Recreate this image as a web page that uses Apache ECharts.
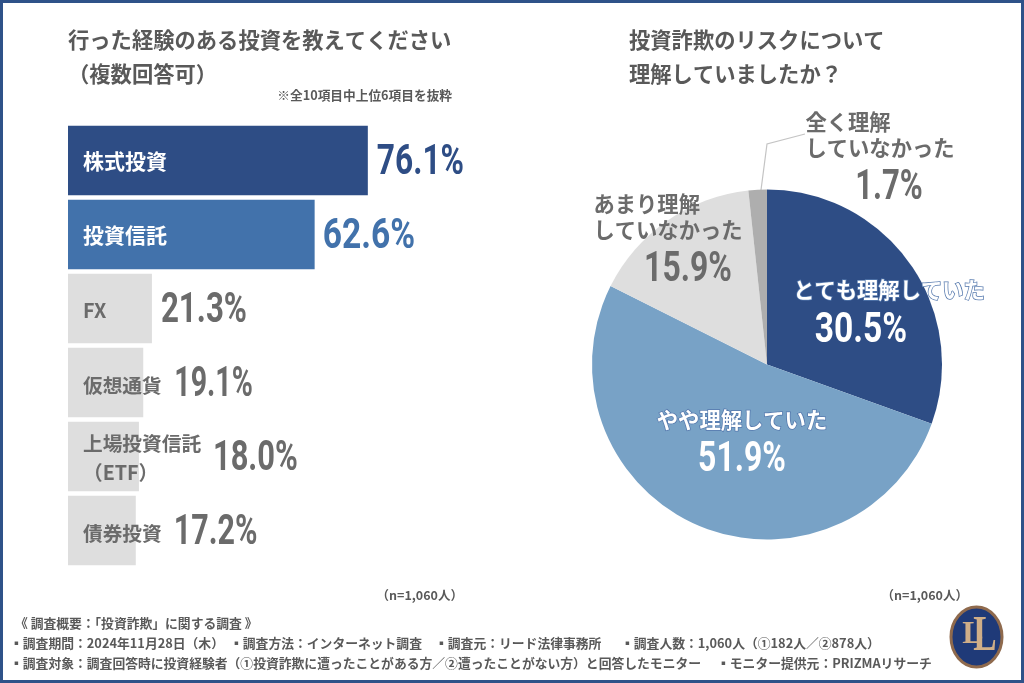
<!DOCTYPE html>
<html><head><meta charset="utf-8">
<style>html,body{margin:0;padding:0;background:#fff}#c{width:1024px;height:683px}</style>
<script src="https://cdn.jsdelivr.net/npm/echarts@6/dist/echarts.min.js"></script>
</head><body><div id="c"></div>
<script>
const barCategories = ['株式投資','投資信託','FX','仮想通貨','上場投資信託\n（ETF）','債券投資'];
const barValues = [76.1,62.6,21.3,19.1,18.0,17.2];
const pieNames = ['とても理解していた','やや理解していた','あまり理解\nしていなかった','全く理解\nしていなかった'];
const pieValues = [30.5,51.9,15.9,1.7];

const CJK = '"Noto Sans CJK JP"';
const NAVY='#2e4d85', BLUE='#4272ab', LIGHT='#78a2c6', GREY='#dedede', MID='#aeaeae', TXT='#6b6b6b', HEAD='#595959';
const PCT_FONT='700 42px Roboto';

const barFill=[NAVY,BLUE,GREY,GREY,GREY,GREY];
const barText=[NAVY,BLUE,TXT,TXT,TXT,TXT];
const catStyle=['a','a','b','c','d','c'];
const labelGap=[9,8,9,31,74,38];
const barPctScale=[.755,.80,.745,.68,.735,.725];
const piePctScale=[.80,.76,.76,.74];
const pieFill=[NAVY,LIGHT,GREY,MID];
const pieNameAt=[[889,290],[742,420],[668,217],[880,135]];
const piePctAt=[[861,331],[742,460],[688,270],[889,188]];
const piePctFill=['#fff','#fff',TXT,TXT];

const note=(text,x,y,extra)=>({type:'text',silent:true,x,y,style:Object.assign({text,font:`700 12.8px ${CJK}`,fill:HEAD,verticalAlign:'middle'},extra||{})});
const pct=v=>v.toFixed(1)+'%';
const catRich=(color,fontSize,top)=>({color,fontSize,fontFamily:CJK,fontWeight:700,lineHeight:29,padding:[top,0,0,0]});

const chart=echarts.init(document.getElementById('c'),null,{renderer:'canvas'});
chart.setOption({
  animation:false,
  backgroundColor:'#fff',
  title:[
    {text:'行った経験のある投資を教えてください\n（複数回答可）',left:68,top:23,padding:0,textStyle:{fontFamily:CJK,fontSize:21.3,fontWeight:700,color:HEAD,lineHeight:34}},
    {text:'投資詐欺のリスクについて\n理解していましたか？',left:629,top:23,padding:0,textStyle:{fontFamily:CJK,fontSize:21.3,fontWeight:700,color:HEAD,lineHeight:34}}
  ],
  grid:{left:68,top:123.5,width:394,height:444,containLabel:false},
  xAxis:{type:'value',min:0,max:100,show:false},
  yAxis:{type:'category',inverse:true,z:5,data:barCategories,
    axisLine:{show:false},axisTick:{show:false},splitLine:{show:false},
    axisLabel:{inside:true,margin:15,align:'left',interval:0,
      formatter:(v,i)=>v.split('\n').map(t=>`{${catStyle[i]}|${t}}`).join('\n'),
      rich:{a:catRich('#fff',21,2),b:catRich(TXT,19.7,5),c:catRich(TXT,19.7,6),d:catRich(TXT,19.7,3)}}},
  series:[
    {type:'bar',barWidth:69.5,silent:true,
     data:barValues.map((value,i)=>({value,itemStyle:{color:barFill[i]}}))},
    {type:'custom',silent:true,z:6,clip:false,
     data:barValues.map((v,i)=>[v,i]),encode:{x:0,y:1},
     renderItem:(params,api)=>{
       const i=api.value(1), v=api.value(0), p=api.coord([v,i]);
       return {type:'text',x:p[0]+labelGap[i],y:p[1]+3,scaleX:barPctScale[i],
         style:{text:pct(v),font:PCT_FONT,fill:barText[i],align:'left',verticalAlign:'middle'}};
     }},
    {type:'pie',center:[767,364.5],radius:[0,175],startAngle:90,clockwise:true,silent:true,
     data:pieNames.map((name,i)=>({name,value:pieValues[i],itemStyle:{color:pieFill[i]}})),
     label:{show:true,position:'inside',
       formatter:p=>p.name.split('\n').map(t=>`{${p.dataIndex<2?'w':'g'}|${t}}`).join('\n'),
       rich:{
         w:{fontFamily:CJK,fontWeight:700,fontSize:21.3,lineHeight:26,color:'#fff',textBorderColor:'#5478ad',textBorderWidth:1.5},
         g:{fontFamily:CJK,fontWeight:700,fontSize:21.3,lineHeight:26,color:TXT,align:'left'}
       }},
     labelLine:{show:false},
     labelLayout:p=>({x:pieNameAt[p.dataIndex][0],y:pieNameAt[p.dataIndex][1],align:'center',verticalAlign:'middle'})
    }
  ],
  graphic:[
    {type:'rect',silent:true,shape:{x:1.5,y:1.5,width:1021,height:680},style:{fill:null,stroke:'#2f5289',lineWidth:3},z:10},
    note('※全10項目中上位6項目を抜粋',452,95,{align:'right',font:`700 12.7px ${CJK}`}),
    note('（n=1,060人）',463,595,{align:'right',font:`700 12.5px ${CJK}`}),
    note('（n=1,060人）',968,595,{align:'right',font:`700 12.5px ${CJK}`}),
    {type:'polyline',silent:true,shape:{points:[[761,190],[767,144],[805,134]]},style:{fill:null,stroke:'#c4c4c4',lineWidth:1.2}},
    ...pieValues.map((v,i)=>({type:'text',silent:true,z:20,x:piePctAt[i][0],y:piePctAt[i][1],scaleX:piePctScale[i],
      style:{text:pct(v),font:PCT_FONT,fill:piePctFill[i],align:'center',verticalAlign:'middle'}})),
    note('《 調査概要：「投資詐欺」に関する調査 》',15,623),
    note('▪調査期間：2024年11月28日（木）',10,643),
    note('▪調査方法：インターネット調査',230,643),
    note('▪調査元：リード法律事務所',435,643),
    note('▪調査人数：1,060人（①182人／②878人）',621,643),
    note('▪調査対象：調査回答時に投資経験者（①投資詐欺に遭ったことがある方／②遭ったことがない方）と回答したモニター',10,663),
    note('▪モニター提供元：PRIZMAリサーチ',717,663),
    {type:'ellipse',silent:true,shape:{cx:976.5,cy:637,rx:25.5,ry:30},style:{fill:'#1f3a78',stroke:'#8f6a4d',lineWidth:3}},
    {type:'text',silent:true,x:973,y:635,style:{text:'L',font:'700 32px "Liberation Serif"',fill:'#cfae88',align:'center',verticalAlign:'middle'}},
    {type:'text',silent:true,x:985,y:637,scaleX:.7,style:{text:'L',font:'700 50px "Liberation Serif"',fill:'#cfae88',align:'center',verticalAlign:'middle'}}
  ]
});
</script></body></html>
